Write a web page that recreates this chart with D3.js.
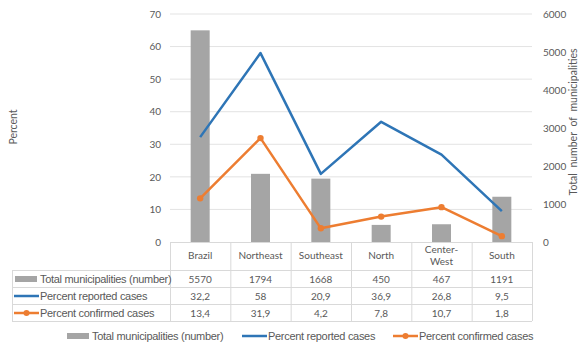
<!DOCTYPE html>
<html>
<head>
<meta charset="utf-8">
<script src="https://cdn.jsdelivr.net/npm/d3@7"></script>
<style>
  html, body { margin: 0; padding: 0; background: #fff; }
  svg { display: block; }
</style>
</head>
<body>
<svg id="chart" width="579" height="344"></svg>
<script>
// Regions of Brazil and their series
const categories = ["Brazil", "Northeast", "Southeast", "North", "Center-West", "South"];
const categoryLines = [["Brazil"], ["Northeast"], ["Southeast"], ["North"], ["Center-", "West"], ["South"]];
const totalMunicipalities = [5570, 1794, 1668, 450, 467, 1191];
const percentReported = [32.2, 58, 20.9, 36.9, 26.8, 9.5];
const percentConfirmed = [13.4, 31.9, 4.2, 7.8, 10.7, 1.8];
const percentTicks = [0, 10, 20, 30, 40, 50, 60, 70];
const countTicks = [0, 1000, 2000, 3000, 4000, 5000, 6000];

const seriesNames = ["Total municipalities (number)", "Percent reported cases", "Percent confirmed cases"];
const fmt = v => String(v).replace(".", ",");

const colors = { bar: "#a5a5a5", blue: "#2e75b6", orange: "#ed7d31", grid: "#e3e3e3", text: "#595959", border: "#d9d9d9" };

const svg = d3.select("#chart");
const plot = { left: 170, right: 532, top: 14, bottom: 242 };

const x = d3.scaleBand().domain(categories).range([plot.left, plot.right]);
const yL = d3.scaleLinear().domain([0, 70]).range([plot.bottom, plot.top]);
const yR = d3.scaleLinear().domain([0, 6000]).range([plot.bottom, plot.top]);
const cx = c => x(c) + x.bandwidth() / 2;

// Horizontal gridlines
svg.append("g").selectAll("line").data(percentTicks.filter(t => t > 0)).join("line")
  .attr("x1", plot.left).attr("x2", plot.right)
  .attr("y1", d => yL(d)).attr("y2", d => yL(d))
  .attr("stroke", colors.grid).attr("stroke-width", 1);

// Left axis (percent)
const leftAxis = svg.append("g").attr("transform", `translate(${plot.left - 9},0)`)
  .call(d3.axisLeft(yL).tickValues(percentTicks).tickSize(0).tickPadding(0));
leftAxis.select(".domain").remove();
leftAxis.selectAll("text").attr("fill", colors.text).attr("font-family", "Lato, 'Open Sans', sans-serif").attr("font-size", 10);

// Right axis (count)
const rightAxis = svg.append("g").attr("transform", `translate(${plot.right + 11},0)`)
  .call(d3.axisRight(yR).tickValues(countTicks).tickFormat(d3.format("d")).tickSize(0).tickPadding(0));
rightAxis.select(".domain").remove();
rightAxis.selectAll("text").attr("fill", colors.text).attr("font-family", "Lato, 'Open Sans', sans-serif").attr("font-size", 10);

// Axis titles
svg.append("text").attr("transform", "translate(17,127) rotate(-90)")
  .attr("text-anchor", "middle").attr("fill", colors.text)
  .attr("font-family", "Lato, 'Open Sans', sans-serif").attr("font-size", 10.5).text("Percent");
svg.append("text").attr("transform", "translate(577,122) rotate(-90)")
  .attr("text-anchor", "middle").attr("fill", colors.text).attr("word-spacing", 3)
  .attr("font-family", "Lato, 'Open Sans', sans-serif").attr("font-size", 10.5).text("Total number of municipalities");

// Bars
const barW = 19;
svg.append("g").selectAll("rect").data(categories).join("rect")
  .attr("x", d => cx(d) - barW / 2).attr("width", barW)
  .attr("y", (d, i) => yR(totalMunicipalities[i]))
  .attr("height", (d, i) => yR(0) - yR(totalMunicipalities[i]))
  .attr("fill", colors.bar);

// Lines
const line = d3.line().x(d => cx(d.c)).y(d => yL(d.v));
const reported = categories.map((c, i) => ({ c, v: percentReported[i] }));
const confirmed = categories.map((c, i) => ({ c, v: percentConfirmed[i] }));
svg.append("path").datum(reported).attr("d", line).attr("fill", "none")
  .attr("stroke", colors.blue).attr("stroke-width", 2.5).attr("stroke-linejoin", "round");
svg.append("path").datum(confirmed).attr("d", line).attr("fill", "none")
  .attr("stroke", colors.orange).attr("stroke-width", 2.5).attr("stroke-linejoin", "round");
svg.append("g").selectAll("circle").data(confirmed).join("circle")
  .attr("cx", d => cx(d.c)).attr("cy", d => yL(d.v)).attr("r", 3.2).attr("fill", colors.orange);

// Data table below the plot
const rowTop = 270, rowH = 17, tableLeft = 12;
const table = svg.append("g");
// vertical separators
table.selectAll(".hv").data(categories.map(c => x(c)).concat([plot.right])).join("line")
  .attr("x1", d => d + 0.5).attr("x2", d => d + 0.5).attr("y1", plot.bottom).attr("y2", rowTop + rowH * 3)
  .attr("stroke", colors.border);
// horizontal lines
table.append("line").attr("x1", plot.left).attr("x2", plot.right).attr("y1", plot.bottom + 0.5).attr("y2", plot.bottom + 0.5).attr("stroke", colors.border);
table.selectAll(".hh").data([0, 1, 2, 3]).join("line")
  .attr("x1", tableLeft).attr("x2", plot.right)
  .attr("y1", d => rowTop + d * rowH + 0.5).attr("y2", d => rowTop + d * rowH + 0.5)
  .attr("stroke", colors.border);
table.append("line").attr("x1", tableLeft + 0.5).attr("x2", tableLeft + 0.5)
  .attr("y1", rowTop).attr("y2", rowTop + rowH * 3).attr("stroke", colors.border);

// category header labels
const hdr = table.selectAll(".hdr").data(categories).join("text")
  .attr("text-anchor", "middle").attr("fill", colors.text)
  .attr("font-family", "Lato, 'Open Sans', sans-serif").attr("font-size", 10);
hdr.each(function (c, i) {
  const lines = categoryLines[i];
  const t = d3.select(this);
  lines.forEach((ln, k) => {
    t.append("tspan").attr("x", cx(c))
      .attr("y", 259 + (k - (lines.length - 1) / 2) * 12)
      .text(ln);
  });
});

// table values
const rows = [totalMunicipalities, percentReported, percentConfirmed];
rows.forEach((vals, r) => {
  table.selectAll(".v" + r).data(categories).join("text")
    .attr("x", d => cx(d)).attr("y", rowTop + r * rowH + 12.5)
    .attr("text-anchor", "middle").attr("fill", colors.text)
    .attr("font-family", "Lato, 'Open Sans', sans-serif").attr("font-size", 10)
    .text((d, i) => fmt(vals[i]));
});

// legend keys drawn in a given group
function drawKey(g, idx, x0, yc) {
  if (idx === 0) {
    g.append("rect").attr("x", x0).attr("y", yc - 3).attr("width", 22).attr("height", 6).attr("fill", colors.bar);
  } else {
    const col = idx === 1 ? colors.blue : colors.orange;
    g.append("line").attr("x1", x0).attr("x2", x0 + 25).attr("y1", yc).attr("y2", yc)
      .attr("stroke", col).attr("stroke-width", 2.5);
    if (idx === 2) g.append("circle").attr("cx", x0 + 12.5).attr("cy", yc).attr("r", 3).attr("fill", col);
  }
}

// row labels in table
seriesNames.forEach((name, r) => {
  const yc = rowTop + r * rowH + rowH / 2 + 0.5;
  drawKey(table, r, r === 0 ? 15 : 14, yc);
  table.append("text").attr("x", 40).attr("y", yc + 3.8)
    .attr("fill", colors.text).attr("font-family", "'Liberation Sans', Arial, sans-serif")
    .attr("font-size", 11).attr("letter-spacing", -0.3).text(name);
});

// Bottom legend
const legend = svg.append("g");
const legendItems = [{ idx: 0, kx: 67, tx: 92 }, { idx: 1, kx: 242, tx: 268 }, { idx: 2, kx: 393, tx: 419 }];
legendItems.forEach(it => {
  drawKey(legend, it.idx, it.kx, 336);
  legend.append("text").attr("x", it.tx).attr("y", 340)
    .attr("fill", colors.text).attr("font-family", "'Liberation Sans', Arial, sans-serif")
    .attr("font-size", 11).attr("letter-spacing", -0.3).text(seriesNames[it.idx]);
});
</script>
</body>
</html>
